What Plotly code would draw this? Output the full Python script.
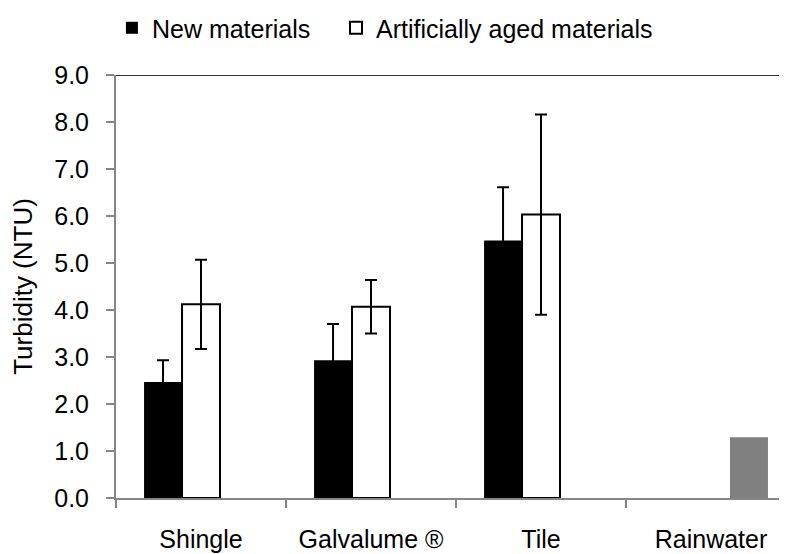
import plotly.graph_objects as go

categories = ["Shingle", "Galvalume ®", "Tile", "Rainwater"]
new_vals = [2.47, 2.93, 5.48, None]
new_err = [0.46, 0.77, 1.13, None]
aged_vals = [4.12, 4.07, 6.03, None]
aged_err = [0.95, 0.57, 2.13, None]
rain_vals = [None, None, None, 1.29]
y_ticks = [0, 1, 2, 3, 4, 5, 6, 7, 8, 9]

FONT = "Liberation Sans, Arial, sans-serif"

fig = go.Figure()
fig.add_trace(go.Bar(
    x=categories, y=new_vals, name="New materials", legend="legend",
    marker=dict(color="black", line=dict(width=0)),
    error_y=dict(type="data", array=new_err, color="black", thickness=2, width=6),
))
fig.add_trace(go.Bar(
    x=categories, y=aged_vals, name="Artificially aged materials", legend="legend2",
    marker=dict(color="white", line=dict(color="black", width=2)),
    error_y=dict(type="data", array=aged_err, color="black", thickness=2, width=6),
))
fig.add_trace(go.Bar(
    x=categories, y=rain_vals, name="Rainwater", showlegend=False,
    marker=dict(color="#808080", line=dict(width=0)),
))

legend_common = dict(orientation="h", y=1.111, xanchor="left", yanchor="middle",
                     font=dict(size=25), itemwidth=30, bgcolor="rgba(0,0,0,0)")

fig.update_layout(
    width=787, height=554,
    margin=dict(l=108, r=0, t=67, b=64, autoexpand=False),
    paper_bgcolor="white", plot_bgcolor="white",
    barmode="group", bargap=0.33, bargroupgap=0,
    font=dict(family=FONT, size=25, color="black"),
    showlegend=True,
    legend=dict(x=-0.006, **legend_common),
    legend2=dict(x=0.324, **legend_common),
    xaxis=dict(
        range=[-0.5, 3.494], showline=True, linecolor="#868686", linewidth=2,
        ticks="outside", tickson="boundaries", ticklen=8, tickcolor="#868686", tickwidth=2,
        showgrid=False, zeroline=False, tickfont=dict(size=25),
        ticklabelstandoff=18,
    ),
    yaxis=dict(
        range=[0, 9], tickvals=y_ticks, tickformat=".1f",
        showline=True, linecolor="#868686", linewidth=2,
        ticks="outside", ticklen=8, tickcolor="#868686", tickwidth=2,
        showgrid=False, zeroline=False, tickfont=dict(size=25),
        ticklabelstandoff=12,
        title=dict(text="Turbidity (NTU)", font=dict(size=26), standoff=21),
    ),
    shapes=[dict(type="line", xref="paper", yref="y", x0=0, x1=1, y0=9, y1=9,
                 line=dict(color="#333333", width=2))],
)

fig.write_html("out.html")
